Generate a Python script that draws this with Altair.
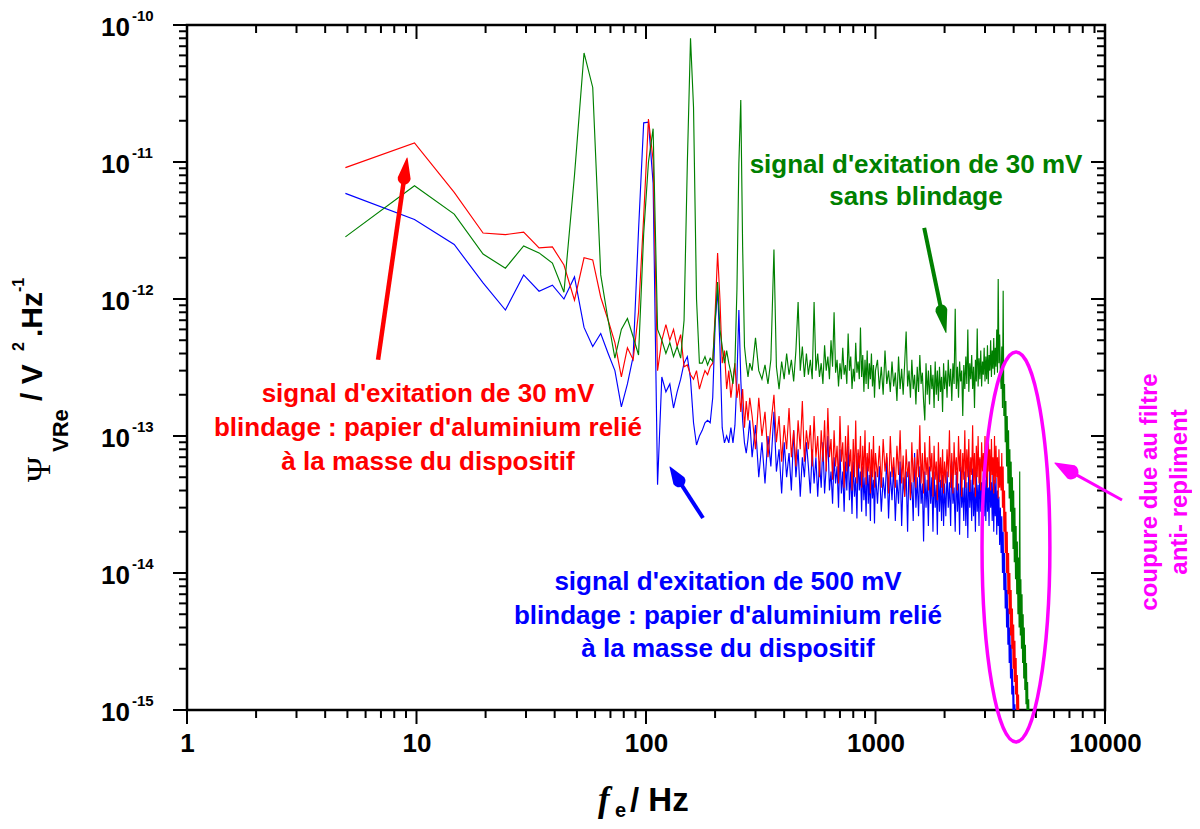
import math
import altair as alt
import pandas as pd

# ---------------- data ----------------
# low-frequency bins (Hz)
FREQ_LOW = [4.9, 9.8, 14.6, 19.5, 24.4, 29.3, 34.2, 39.1, 43.9, 48.8, 53.7, 58.6, 63.5, 68.4,
            73.2, 78.1, 83.0, 87.9, 92.8, 97.7, 102.5, 107.4, 112.3, 117.2, 122.1, 127.0, 131.8,
            136.7, 141.6, 146.5, 151.4, 156.3, 161.1, 166.0, 170.9, 175.8, 180.7, 185.5, 190.4,
            195.3, 200.2, 205.1, 210.0, 214.8, 219.7, 224.6, 229.5, 234.4, 239.3, 244.1, 249.0,
            253.9, 258.8, 263.7, 268.6, 273.4, 278.3, 283.2]

GREEN_LOW = [2.84e-12, 6.7e-12, 4.17e-12, 2.13e-12, 1.68e-12, 2.44e-12, 2.17e-12, 1.83e-12, 1.12e-12,
             8.0e-12, 6.25e-11, 3.5e-11, 1.5e-12, 7.0e-13, 3.7e-13, 6.0e-13, 7.2e-13, 5.3e-13, 3.9e-13,
             3.0e-12, 1.0e-11, 1.75e-11, 6.0e-13, 5.0e-13, 4.0e-13, 4.8e-13, 3.8e-13, 4.5e-13, 3.7e-13,
             7.0e-13, 9.8e-12, 8.0e-11, 2.5e-11, 1.0e-12, 3.4e-13, 3.4e-13, 3.8e-13, 3.3e-13, 3.7e-13,
             3.5e-13, 7.0e-13, 1.33e-12, 6.0e-13, 4.5e-13, 3.4e-13, 4.2e-13, 3.4e-13, 2.9e-13, 2.4e-13,
             3.4e-13, 1.17e-12, 9.8e-12, 2.84e-11, 2.4e-12, 4.5e-13, 3.4e-13, 2.7e-13, 3.4e-13]

RED_LOW = [9.1e-12, 1.38e-11, 6.0e-12, 3.03e-12, 2.95e-12, 3.08e-12, 2.36e-12, 2.4e-12, 1.77e-12,
           9.8e-13, 2.0e-12, 1.93e-12, 1.03e-12, 7.0e-13, 4.8e-13, 2.7e-13, 4.4e-13, 3.6e-13, 8.0e-13,
           4.0e-12, 2.06e-11, 1.03e-11, 3.0e-13, 5.0e-13, 6.5e-13, 5.0e-13, 6.0e-13, 4.5e-13, 5.5e-13,
           3.2e-13, 3.3e-13, 2.8e-13, 2.6e-13, 3.0e-13, 2.2e-13, 2.6e-13, 3.0e-13, 2.8e-13, 3.2e-13,
           3.4e-13, 8.0e-13, 2.17e-12, 1.0e-12, 3.4e-13, 4.2e-13, 2.2e-13, 3.0e-13, 1.9e-13, 2.6e-13,
           3.4e-13, 1.9e-13, 2.4e-13, 1.5e-13, 2.2e-13, 1.15e-13, 1.8e-13, 1.3e-13, 1.9e-13]

BLUE_LOW = [5.9e-12, 3.8e-12, 2.5e-12, 1.31e-12, 8.3e-13, 1.5e-12, 1.14e-12, 1.26e-12, 1.0e-12,
            1.45e-12, 6.2e-13, 4.5e-13, 5.6e-13, 4.0e-13, 3.0e-13, 1.63e-13, 2.4e-13, 3.8e-13, 3.2e-12,
            1.93e-11, 1.95e-11, 7.0e-12, 4.4e-14, 2.7e-13, 2.1e-13, 2.4e-13, 1.6e-13, 2.1e-13, 2.6e-13,
            3.4e-13, 3.8e-13, 2.6e-13, 1.25e-13, 8.6e-14, 1.0e-13, 1.1e-13, 1.25e-13, 1.3e-13, 1.25e-13,
            1.9e-13, 6.7e-13, 1.17e-12, 4.5e-13, 1.15e-13, 8.9e-14, 1.0e-13, 8.9e-14, 1.15e-13, 8.9e-14,
            1.2e-13, 2.6e-13, 8.3e-13, 2.6e-13, 1.3e-13, 8.9e-14, 7.5e-14, 9.5e-14, 1.3e-13]

# dense (noisy) part of the spectrum (Hz)
FREQ_HI = [
    290, 300, 310, 320, 330, 340, 350, 361, 370, 380,
    390, 400, 410, 420, 430, 440, 450, 460, 470, 480,
    490, 500,
    510, 520, 530, 540, 550, 560, 570, 580, 590, 600,
    610, 620, 630, 640, 650, 660, 670, 680, 690, 700,
    710, 720, 730, 740, 750, 760, 770, 780, 790, 800,
    810, 820, 830, 840, 850, 860, 870, 880, 890, 900,
    910, 920, 930, 940, 950, 960, 970, 980, 990, 1000,
    1020, 1040, 1060, 1080, 1100, 1120, 1140, 1160, 1180, 1200,
    1220, 1240, 1260, 1280, 1300, 1320, 1340, 1360, 1380, 1400,
    1420, 1440, 1460, 1480, 1500, 1520, 1540, 1560, 1580, 1600,
    1620, 1640, 1660, 1680, 1700, 1720, 1740, 1760, 1780, 1800,
    1820, 1840, 1860, 1880, 1900, 1920, 1940, 1960, 1980, 2000,
    2025, 2050, 2075, 2100, 2125, 2150, 2175, 2200, 2225, 2250,
    2275, 2300, 2325, 2350, 2375, 2400, 2425, 2450, 2475, 2500,
    2525, 2550, 2575, 2600, 2625, 2650, 2675, 2700, 2725, 2750,
    2775, 2800, 2825, 2850, 2875, 2900, 2925, 2950, 2975, 3000,
    3025, 3050, 3075, 3100, 3125, 3150, 3175, 3200, 3225, 3250,
    3275, 3300, 3325, 3350, 3375, 3400, 3425, 3450, 3475, 3500,
    3525, 3550, 3575, 3600, 3625, 3650, 3675, 3700, 3725, 3750,
    3775, 3800, 3825, 3850, 3875, 3900, 3925, 3950, 3975, 4000,
    4025, 4050, 4075, 4100, 4125, 4150, 4175, 4200, 4225, 4250,
    4275, 4300, 4325, 4350, 4375, 4400, 4425, 4450, 4475, 4500,
    4525, 4550, 4575, 4600, 4625, 4650, 4675, 4700, 4725, 4750,
]

# green in units of 1e-13 V^2/Hz
GREEN_HI = [
    3.0, 5.2, 3.0, 2.6, 3.3, 2.4, 3.6, 23, 3.2, 2.2,
    3.5, 2.6, 4.0, 2.8, 3.6, 2.5, 4.2, 9.5, 3.0, 4.5,
    2.7, 4.0,
    2.8, 3.6, 2.6, 9.5, 3.0, 4.0, 2.7, 3.4, 2.4, 4.6,
    3.0, 3.8, 2.6, 5.0, 3.2, 8.0, 2.9, 3.6, 2.3, 3.4,
    2.6, 4.4, 2.8, 3.3, 2.4, 5.6, 3.0, 3.8, 2.2, 3.1,
    2.5, 4.8, 2.9, 3.5, 2.6, 6.2, 2.7, 3.9, 2.1, 3.6,
    2.4, 4.2, 2.2, 3.4, 2.6, 4.0, 2.3, 3.3, 1.9, 3.0,
    3.6, 2.2, 3.2, 2.0, 4.2, 2.4, 3.0, 2.1, 3.5, 2.3,
    2.9, 1.8, 3.8, 2.2, 3.1, 2.0, 3.4, 5.8, 2.3, 3.0,
    1.9, 3.6, 2.2, 2.8, 1.7, 3.2, 2.1, 3.9, 2.4, 2.9,
    1.8, 1.3, 3.4, 2.0, 3.0, 1.7, 3.3, 2.2, 2.8, 1.6,
    3.5, 2.0, 3.0, 1.8, 3.2, 2.1, 2.7, 1.5, 3.4, 2.2,
    3.0, 1.9, 3.6, 2.3, 3.1, 1.8, 3.4, 2.4, 8.5, 2.2,
    3.2, 1.9, 3.5, 2.5, 3.0, 1.4, 3.3, 2.2, 3.8, 2.4,
    6.0, 2.1, 3.4, 2.6, 3.9, 2.2, 3.2, 1.6, 3.6, 2.5,
    6.1, 2.3, 3.7, 2.6, 4.2, 2.3, 3.5, 2.8, 4.4, 2.5,
    3.8, 2.6, 4.6, 2.4, 3.9, 3.0, 5.0, 2.7, 4.2, 3.1,
    5.2, 2.8, 4.4, 3.2, 6.0, 2.9, 14, 3.4, 5.5, 3.0,
    2.2, 4.5, 1.6, 11.5, 1.4, 2.4, 0.9, 1.8, 0.6, 1.4,
    0.45, 1.1, 0.35, 0.8, 0.28, 0.65, 0.2, 0.5, 0.15, 0.4,
    0.12, 0.3, 0.09, 0.22, 0.07, 0.17, 0.05, 0.13, 0.04, 0.55,
    0.035, 0.09, 0.028, 0.07, 0.022, 0.05, 0.017, 0.04, 0.014, 0.03,
    0.011, 0.022, 0.009, 0.016, 0.007, 0.012, 0.006, 0.008, 0.004,
]

# red in units of 1e-14 V^2/Hz
RED_HI = [
    14, 8, 19, 10, 15, 7, 12, 20, 9, 14,
    6.5, 12, 8, 16, 7, 11, 6, 13, 8, 18,
    6.5, 11,
    8, 12, 6, 14, 7, 10, 5, 11, 6.5, 13,
    5.5, 16, 7, 9.5, 4.8, 11, 6, 8.5, 4.5, 14,
    6.5, 9, 4.2, 10, 5.5, 12, 6, 8, 4, 9.5,
    5, 13, 4.5, 8, 5.8, 10, 4.2, 8.5, 5, 11,
    4.4, 7.5, 5.5, 9, 3.8, 8, 5, 10, 4.2, 7.5,
    5, 8.5, 4.2, 9.5, 5.5, 7.5, 3.8, 10, 5, 7,
    4.2, 8.5, 5.2, 11, 4.5, 7.2, 3.6, 8, 5, 6.5,
    3.5, 9, 4.6, 7, 4.2, 8, 5, 12, 4.5, 7.5,
    3.8, 9, 5.2, 7, 4, 10, 5.5, 7.5, 3.6, 8.5,
    4.8, 6.5, 3.4, 9, 4.6, 7, 4.2, 8, 3.8, 6.5,
    4.5, 8, 5, 11, 4.2, 7.5, 3.8, 9, 5.2, 7,
    4, 10, 5.5, 8, 3.6, 7.5, 4.8, 11, 4.2, 8,
    5, 9.5, 3.9, 7, 5.2, 12, 4.4, 7.5, 3.6, 8.5,
    5, 10, 4.5, 7, 4, 9, 5.5, 7.5, 3.8, 10,
    5, 8, 4.2, 11, 5.5, 8, 4, 9.5, 5.2, 7,
    3.8, 10, 4.5, 8.5, 5, 7, 3.5, 8, 4.2, 6,
    4.0, 7.5, 3.0, 6.0, 2.0, 4.0, 1.4, 2.8, 1.0, 2.0,
    0.7, 1.4, 0.5, 1.0, 0.35, 0.75, 0.28, 0.55, 0.2, 0.42,
    0.16, 0.32, 0.13, 0.24, 0.1, 0.18, 0.08, 0.13, 0.06, 0.1,
    0.05, 0.07, 0.04,
]

# blue in units of 1e-14 V^2/Hz
BLUE_HI = [
    7, 12, 5, 9, 4.5, 10, 6, 15, 5.5, 8,
    3.8, 9, 5, 7.5, 4, 11, 5, 8, 3.6, 7,
    5, 9,
    6, 3.8, 8, 4.5, 7, 3.6, 6.5, 4.2, 9, 3.8,
    6, 10, 4, 5.5, 3.2, 7, 4.5, 6, 3.0, 8,
    3.8, 5.5, 2.8, 6.5, 4, 8.5, 3.4, 5.5, 2.7, 6.5,
    3.6, 5, 2.5, 7.5, 4, 5.5, 2.8, 6, 3.4, 5,
    2.6, 7, 3.2, 5.2, 2.4, 6, 3.5, 4.8, 2.3, 5.5,
    3.2, 6, 2.8, 5, 3.5, 7, 2.5, 5.5, 3.4, 6,
    2.4, 4.8, 3.2, 6.5, 2.2, 5, 3.6, 5.5, 2.0, 6.5,
    3.4, 4.6, 2.4, 7.5, 3.0, 5, 2.6, 6, 3.2, 4.5,
    1.7, 5.5, 3.0, 4.8, 2.2, 6, 3.2, 5, 2.0, 5.5,
    3.0, 4.4, 1.9, 6, 2.8, 4.8, 2.4, 5.2, 2.2, 4.5,
    2.6, 5.5, 3.0, 4.6, 2.2, 6.5, 3.2, 4.2, 2.0, 5.5,
    2.8, 4.5, 1.9, 6, 3.0, 4.2, 2.4, 5.5, 2.2, 4.6,
    1.8, 6.5, 3.0, 4.8, 2.4, 5.8, 2.6, 4.2, 2.0, 5.5,
    2.8, 4.4, 2.2, 6.8, 2.8, 4.6, 2.3, 5.5, 2.6, 4.8,
    2.4, 5.8, 2.8, 4.2, 2.2, 6.5, 3.0, 4.6, 2.4, 5.2,
    2.0, 4.8, 2.6, 5.0, 1.9, 4.0, 2.2, 3.6, 1.6, 3.0,
    1.4, 2.6, 1.0, 2.0, 0.75, 1.4, 0.55, 1.0, 0.4, 0.75,
    0.3, 0.55, 0.22, 0.4, 0.17, 0.3, 0.13, 0.2, 0.1, 0.15,
    0.08, 0.11, 0.06, 0.08, 0.04,
]

SERIES = [("blue", BLUE_LOW, BLUE_HI, 1e-14, "#0000ff"),
          ("red", RED_LOW, RED_HI, 1e-14, "#ff0000"),
          ("green", GREEN_LOW, GREEN_HI, 1e-13, "#008000")]

# axis ticks
X_MAJOR = [1, 10, 100, 1000, 10000]
X_MINOR = [2, 3, 4, 5, 6, 7, 8, 9, 20, 30, 40, 50, 60, 70, 80, 90, 200, 300, 400, 500, 600, 700,
           800, 900, 2000, 3000, 4000, 5000, 6000, 7000, 8000, 9000]
Y_MAJOR = [1e-15, 1e-14, 1e-13, 1e-12, 1e-11, 1e-10]
Y_EXP = ["-15", "-14", "-13", "-12", "-11", "-10"]
Y_MINOR = [m * 10.0 ** e for e in (-15, -14, -13, -12, -11) for m in (2, 3, 4, 5, 6, 7, 8, 9)]

# ---------------- layout constants ----------------
W, H = 918, 685
FONT = "Liberation Sans"
MAJ, MIN = 14, 8

xs = alt.Scale(type="log", domain=[1, 10000], nice=False)
ys = alt.Scale(type="log", domain=[1e-15, 1e-10], nice=False)
xax = alt.Axis(values=X_MAJOR, format="d", ticks=False, domain=False, grid=False, title=None,
               labelFont=FONT, labelFontWeight="bold", labelFontSize=26, labelColor="black",
               labelPadding=20, labelFlush=False)
yax = alt.Axis(labels=False, ticks=False, domain=False, grid=False, title=None)


def X(field):
    return alt.X(field, type="quantitative", scale=xs, axis=xax)


def Y(field):
    return alt.Y(field, type="quantitative", scale=ys, axis=yax)


rows = []
for name, low, hi, unit, _ in SERIES:
    for f, v in zip(FREQ_LOW, low):
        rows.append({"series": name, "f": f, "v": v})
    for f, v in zip(FREQ_HI, hi):
        rows.append({"series": name, "f": f, "v": v * unit})
df = pd.DataFrame(rows)

layers = []
for name, _, _, _, col in SERIES:
    layers.append(
        alt.Chart(df).transform_filter(alt.datum.series == name)
        .mark_line(color=col, strokeWidth=1.15, clip=True)
        .encode(x=X("f"), y=Y("v"))
    )

# ticks
xmaj = pd.DataFrame({"t": X_MAJOR})
xmin = pd.DataFrame({"t": X_MINOR})
ymaj = pd.DataFrame({"t": Y_MAJOR, "e": Y_EXP})
ymin = pd.DataFrame({"t": Y_MINOR})
tick = dict(color="black", strokeWidth=2)
for d, L in ((xmaj, MAJ), (xmin, MIN)):
    layers.append(alt.Chart(d).mark_rule(**tick).encode(x=X("t"), y=alt.value(H), y2=alt.value(H + L)))
    layers.append(alt.Chart(d).mark_rule(**tick).encode(x=X("t"), y=alt.value(0), y2=alt.value(L)))
for d, L in ((ymaj, MAJ), (ymin, MIN)):
    layers.append(alt.Chart(d).mark_rule(**tick).encode(y=Y("t"), x=alt.value(0), x2=alt.value(-L)))
    layers.append(alt.Chart(d).mark_rule(**tick).encode(y=Y("t"), x=alt.value(W), x2=alt.value(W - L)))

# y tick labels 10^n
layers.append(alt.Chart(ymaj).mark_text(font=FONT, fontWeight="bold", fontSize=26, align="right",
                                        baseline="middle", dy=3, color="black")
              .encode(y=Y("t"), x=alt.value(-57), text=alt.value("10")))
layers.append(alt.Chart(ymaj).mark_text(font=FONT, fontWeight="bold", fontSize=15, align="left",
                                        baseline="middle", dy=-9, color="black")
              .encode(y=Y("t"), x=alt.value(-55), text="e:N"))


def txt(s, x, y, color="black", size=26, angle=0, align="center", baseline="middle",
        font=FONT, weight="bold", style="normal"):
    return (alt.Chart(pd.DataFrame({"s": [s]}))
            .mark_text(font=font, fontSize=size, fontWeight=weight, fontStyle=style, color=color,
                       angle=angle, align=align, baseline=baseline)
            .encode(x=alt.value(x), y=alt.value(y), text="s:N"))


# axis titles (plot-relative pixels)
layers += [
    txt("f", 411, 786, size=35, align="left", baseline="alphabetic", font="Liberation Serif",
        style="italic"),
    txt("e", 428, 792, size=20, align="left", baseline="alphabetic"),
    txt("/ Hz", 443, 786, size=33, align="left", baseline="alphabetic"),
    txt("Ψ", -137, 457, size=34, angle=270, align="left", baseline="alphabetic",
        font="Liberation Serif", weight="normal"),
    txt("VRe", -119, 427, size=22, angle=270, align="left", baseline="alphabetic"),
    txt("/ V", -145, 376, size=30, angle=270, align="left", baseline="alphabetic"),
    txt("2", -163, 326, size=16, angle=270, align="left", baseline="alphabetic"),
    txt(".Hz", -145, 312, size=30, angle=270, align="left", baseline="alphabetic"),
    txt("-1", -163, 267, size=16, angle=270, align="left", baseline="alphabetic"),
]

# annotation texts
RED_TXT = ["signal d'exitation de 30 mV", "blindage : papier d'aluminium relié",
           "à la masse du dispositif"]
BLUE_TXT = ["signal d'exitation de 500 mV", "blindage : papier d'aluminium relié",
            "à la masse du dispositif"]
GREEN_TXT = ["signal d'exitation de 30 mV", "sans blindage"]
MAG_TXT = ["coupure due au filtre", "anti- repliment"]
for s, y in zip(RED_TXT, (369, 403, 437)):
    layers.append(txt(s, 241, y, color="#ff0000"))
for s, y in zip(BLUE_TXT, (557, 591, 624)):
    layers.append(txt(s, 541, y, color="#0000ff"))
for s, y in zip(GREEN_TXT, (140, 172)):
    layers.append(txt(s, 729, y, color="#008000"))
for s, x in zip(MAG_TXT, (963, 993)):
    layers.append(txt(s, x, 467, color="#ff00ff", size=24, angle=270))

# arrows: tail (f, v), tip (f, v), colour, shaft width, head length fraction, head width
ARROWS = [(6.8, 3.6e-13, 9.1, 1.07e-11, "#ff0000", 4.5, 0.10, 13),
          (177.2, 2.52e-14, 127.2, 5.94e-14, "#0000ff", 4.0, 0.27, 13),
          (1630, 3.3e-12, 2028, 5.7e-13, "#008000", 4.0, 0.21, 12),
          (11860, 3.41e-14, 6050, 6.35e-14, "#ff00ff", 3.0, 0.24, 15)]


def along(a, b, t):
    return 10 ** (math.log10(a) + t * (math.log10(b) - math.log10(a)))


for tf, tv, hf, hv, col, sw, frac, hw in ARROWS:
    bf, bv = along(hf, tf, frac), along(hv, tv, frac)
    seg = pd.DataFrame({"f": [tf, bf], "v": [tv, bv]})
    layers.append(alt.Chart(seg).mark_line(color=col, strokeWidth=sw, clip=False)
                  .encode(x=X("f"), y=Y("v")))
    head = pd.DataFrame({"f": [bf, hf], "v": [bv, hv], "w": [hw, 0.0]})
    layers.append(alt.Chart(head).mark_trail(color=col, opacity=1, clip=False)
                  .encode(x=X("f"), y=Y("v"), size=alt.Size("w:Q", scale=None, legend=None)))

# magenta ellipse around the anti-aliasing cut-off
ELL = pd.DataFrame({"f": [4093], "v": [1.55e-14]})
ELL_PATH = ("M 0 -1 A 0.174 1 0 0 1 0.174 0 A 0.174 1 0 0 1 0 1 "
            "A 0.174 1 0 0 1 -0.174 0 A 0.174 1 0 0 1 0 -1 Z")
layers.append(alt.Chart(ELL).mark_point(shape=ELL_PATH, filled=False, stroke="#ff00ff",
                                        strokeWidth=3.5, opacity=1, size=390 * 390)
              .encode(x=X("f"), y=Y("v")))

chart = alt.layer(*layers).properties(
    width=W, height=H,
    autosize=alt.AutoSizeParams(type="none"),
    padding={"left": 179, "top": 17, "right": 87, "bottom": 111},
    background="white",
).configure_view(stroke="black", strokeWidth=2.5)

chart.save("out.html", embed_options={"renderer": "svg", "actions": False})
